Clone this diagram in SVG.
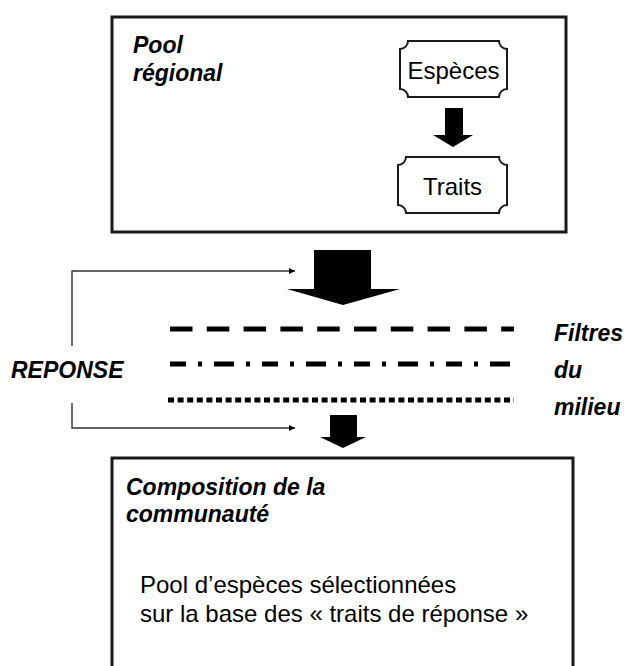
<svg xmlns="http://www.w3.org/2000/svg" width="640" height="666" viewBox="0 0 640 666">
  <style>
    .frame { fill: #ffffff; stroke: #1a1a1a; stroke-width: 3; }
    .plaque { fill: #ffffff; stroke: #1a1a1a; stroke-width: 2; }
    .block { fill: #000000; }
    .label { font-family: "Liberation Sans", Arial, sans-serif; font-size: 24px; fill: #000; }
    .title { font-family: "Liberation Sans", Arial, sans-serif; font-size: 23px; font-weight: bold; font-style: italic; fill: #000; }
    .filter { fill: none; stroke: #000; stroke-width: 5; }
    .link { fill: none; stroke: #333; stroke-width: 1.4; }
  </style>
  <defs>
    <marker id="tip" viewBox="0 0 10 10" refX="10" refY="5" markerWidth="7" markerHeight="6" markerUnits="userSpaceOnUse" orient="auto">
      <path d="M0,0 L10,5 L0,10 z" fill="#000"/>
    </marker>
  </defs>

  <!-- Regional pool -->
  <g id="pool-regional">
    <rect class="frame" x="112" y="17" width="454" height="215"/>
    <text class="title" x="133" y="53">Pool</text>
    <text class="title" x="133" y="81">régional</text>
  </g>

  <g id="especes">
    <path class="plaque" d="M408,41 H499 A8,8 0 0 0 507,49 V89 A8,8 0 0 0 499,97 H408 A8,8 0 0 0 400,89 V49 A8,8 0 0 0 408,41 Z"/>
    <text class="label" x="453.5" y="79" text-anchor="middle">Espèces</text>
  </g>

  <g id="traits">
    <path class="plaque" d="M406,157 H499 A8,8 0 0 0 507,165 V205 A8,8 0 0 0 499,213 H406 A8,8 0 0 0 398,205 V165 A8,8 0 0 0 406,157 Z"/>
    <text class="label" x="452.5" y="195" text-anchor="middle">Traits</text>
  </g>

  <!-- Environmental filters -->
  <g id="filtres">
    <line class="filter" x1="170" y1="329" x2="514" y2="329" stroke-dasharray="22.5 14.3"/>
    <line class="filter" x1="170" y1="364" x2="514" y2="364" stroke-dasharray="16 12 4 12 20 12 4 12"/>
    <line class="filter" x1="168" y1="400" x2="514" y2="400" stroke-width="4" stroke-dasharray="6 3.6"/>
    <text class="title" x="554" y="341" font-size="24">Filtres</text>
    <text class="title" x="554" y="378" font-size="24">du</text>
    <text class="title" x="554" y="415" font-size="24">milieu</text>
  </g>

  <g id="reponse">
    <text class="title" x="11" y="378" font-size="24.5">REPONSE</text>
  </g>

  <!-- Community composition -->
  <g id="composition">
    <rect class="frame" x="112" y="458" width="461" height="230" stroke-width="2.6"/>
    <text class="title" x="126" y="495" font-size="24">Composition de la</text>
    <text class="title" x="126" y="522" font-size="24">communauté</text>
    <text class="label" x="140" y="593" font-size="24.6">Pool d’espèces sélectionnées</text>
    <text class="label" x="140" y="622" font-size="24.6">sur la base des « traits de réponse »</text>
  </g>

  <!-- Connectors -->
  <g id="connectors">
    <path class="block" d="M445,108 H463 V135 H473 L453,147 L433,135 H445 Z"/>
    <path class="block" d="M314,250 H371 V289 H400 L343,305 L287,289 H314 Z"/>
    <path class="block" d="M330,415 H357 V437 H366 L343,448 L320,437 H330 Z"/>
    <path class="link" d="M72,346 V271 H295" marker-end="url(#tip)"/>
    <path class="link" d="M72,403 V428 H295" marker-end="url(#tip)"/>
  </g>
</svg>
